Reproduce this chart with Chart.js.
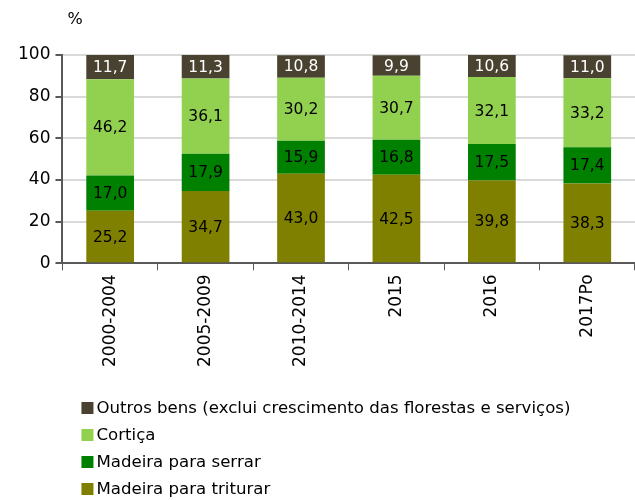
<!DOCTYPE html>
<html>
<head>
<meta charset="utf-8">
<script src="https://cdn.jsdelivr.net/npm/chart.js@4/dist/chart.umd.min.js"></script>
<style>
	body { margin: 0; background: #fff; }
	#wrap { width: 635px; height: 500px; }
</style>
</head>
<body>
<div id="wrap"><canvas id="chart"></canvas></div>
<script>
var periodos = ["2000-2004", "2005-2009", "2010-2014", "2015", "2016", "2017Po"];
var triturar = [25.2, 34.7, 43.0, 42.5, 39.8, 38.3];
var serrar = [17.0, 17.9, 15.9, 16.8, 17.5, 17.4];
var cortica = [46.2, 36.1, 30.2, 30.7, 32.1, 33.2];
var outros = [11.7, 11.3, 10.8, 9.9, 10.6, 11.0];

var fonte = "'DejaVu Sans', Verdana, sans-serif";
Chart.defaults.font.family = fonte;
Chart.defaults.font.size = 17;
Chart.defaults.color = "#000";

// valores dentro das barras
var rotulos = {
	id: "rotulos",
	afterDatasetsDraw: function (chart) {
		var ctx = chart.ctx;
		ctx.save();
		ctx.font = "15.5px " + fonte;
		ctx.textAlign = "center";
		ctx.textBaseline = "middle";
		chart.data.datasets.forEach(function (ds, i) {
			var meta = chart.getDatasetMeta(i);
			meta.data.forEach(function (bar, j) {
				ctx.fillStyle = ds.labelColor;
				var y = (bar.y + bar.base) / 2;
				ctx.fillText(ds.data[j].toFixed(1).replace(".", ","), bar.x, y + 1);
			});
		});
		ctx.restore();
	}
};

// "%" por cima do eixo e legenda vertical em baixo
var legenda = {
	id: "legenda",
	afterDraw: function (chart) {
		var ctx = chart.ctx;
		ctx.save();
		ctx.font = "16px " + fonte;
		ctx.textBaseline = "middle";
		ctx.fillStyle = "#000";
		ctx.fillText("%", chart.chartArea.left + 5, 20);
		ctx.font = "16.6px " + fonte;
		var ds = chart.data.datasets.slice().reverse();
		var x = chart.chartArea.left + 19;
		var y0 = chart.height - 92;
		ds.forEach(function (d, i) {
			var y = y0 + i * 27;
			ctx.fillStyle = d.backgroundColor;
			ctx.fillRect(x, y - 6, 12, 12);
			ctx.fillStyle = "#000";
			ctx.fillText(d.label, x + 15, y + 1);
		});
		ctx.restore();
	}
};

new Chart(document.getElementById("chart"), {
	type: "bar",
	data: {
		labels: periodos,
		datasets: [
			{ label: "Madeira para triturar", data: triturar, backgroundColor: "#808000", labelColor: "#000" },
			{ label: "Madeira para serrar", data: serrar, backgroundColor: "#008000", labelColor: "#000" },
			{ label: "Cortiça", data: cortica, backgroundColor: "#92d050", labelColor: "#000" },
			{ label: "Outros bens (exclui crescimento das florestas e serviços)", data: outros, backgroundColor: "#4a4230", labelColor: "#fff" }
		]
	},
	options: {
		responsive: true,
		maintainAspectRatio: false,
		animation: false,
		barPercentage: 0.5,
		categoryPercentage: 1,
		layout: { padding: { left: 13, right: 0, top: 55, bottom: 129 } },
		plugins: {
			legend: { display: false },
			tooltip: { enabled: false }
		},
		scales: {
			x: {
				stacked: true,
				grid: { offset: true, drawOnChartArea: false, tickLength: 7, color: "#595959" },
				border: { color: "#595959", width: 2 },
				ticks: { minRotation: 90, maxRotation: 90, padding: 4 }
			},
			y: {
				stacked: true,
				min: 0,
				max: 100,
				ticks: { stepSize: 20, padding: 5 },
				grid: { color: "#d9d9d9", lineWidth: 2, tickLength: 7, tickColor: "#595959" },
				border: { color: "#595959", width: 2 }
			}
		}
	},
	plugins: [rotulos, legenda]
});
</script>
</body>
</html>
